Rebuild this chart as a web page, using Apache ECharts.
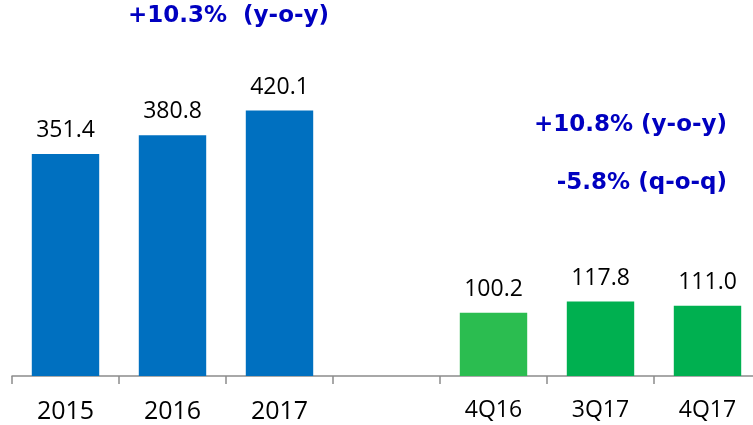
<!DOCTYPE html>
<html>
<head>
<meta charset="utf-8">
<script src="https://cdn.jsdelivr.net/npm/echarts@6/dist/echarts.min.js"></script>
<style>
  html, body { margin: 0; padding: 0; background: #fff; }
  #chart { width: 753px; height: 425px; }
</style>
</head>
<body>
<div id="chart"></div>
<script>
const categories = ["2015", "2016", "2017", "", "4Q16", "3Q17", "4Q17"]
const values = [351.4, 380.8, 420.1, null, 100.2, 117.8, 111.0]
const barColors = ["#0070c0", "#0070c0", "#0070c0", "#ffffff", "#2bbd50", "#00b050", "#00b050"]
const notes = ["+10.3%  (y-o-y)", "+10.8% (y-o-y)", "-5.8% (q-o-q)"]

const chart = echarts.init(document.getElementById("chart"))

const noteStyle = {
  fill: "#0000c0",
  font: "bold 23px 'DejaVu Sans'",
}

chart.setOption({
  animation: false,
  grid: { left: 12, right: -8, top: 60, bottom: 49, outerBoundsMode: "none" },
  xAxis: {
    type: "category",
    data: categories,
    boundaryGap: true,
    axisLine: { show: true, lineStyle: { color: "#8c8c8c", width: 1.5 } },
    axisTick: { show: true, interval: 0, alignWithLabel: false, length: 8, lineStyle: { color: "#8c8c8c", width: 1.5 } },
    axisLabel: {
      interval: 0,
      color: "#000",
      fontFamily: "Open Sans",
      margin: 23,
      fontSize: 23,
      formatter: v => (v.length === 4 && v[1] !== "Q" ? "{big|" + v + "}" : v),
      rich: { big: { fontSize: 25, fontFamily: "Open Sans", color: "#000" } },
    },
  },
  yAxis: {
    type: "value",
    min: 0,
    max: 500,
    show: false,
  },
  series: [
    {
      type: "bar",
      barWidth: "63%",
      data: values.map((v, i) => ({ value: v, itemStyle: { color: barColors[i] } })),
      label: {
        show: true,
        position: "top",
        distance: 12,
        color: "#000",
        fontSize: 23,
        fontFamily: "Open Sans",
        formatter: p => p.value.toFixed(1),
      },
    },
  ],
  graphic: [
    { type: "text", left: 128, top: 5, style: Object.assign({ text: notes[0] }, noteStyle) },
    { type: "text", right: 26, top: 114, style: Object.assign({ text: notes[1] }, noteStyle) },
    { type: "text", right: 26, top: 172, style: Object.assign({ text: notes[2] }, noteStyle) },
  ],
})
</script>
</body>
</html>
